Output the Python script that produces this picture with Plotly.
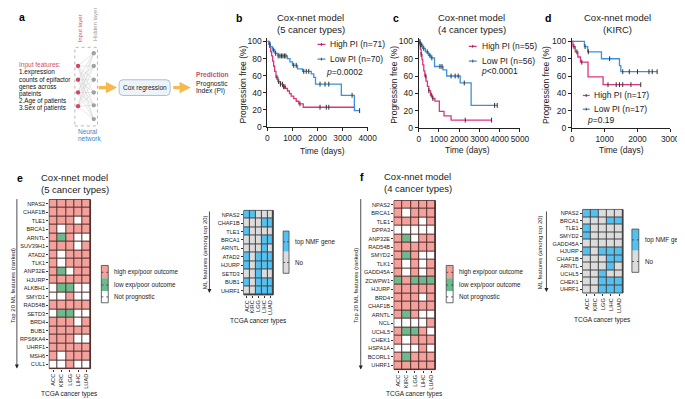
import plotly.graph_objects as go

W, H = 685, 399
FONT = "Liberation Sans, Arial, sans-serif"
PINK = "#e0337e"
BLUE = "#3d8fdb"
RED = "#f5a19b"
GREEN = "#6cba8d"
WHITE = "#ffffff"
NMF_BLUE = "#55c1f1"
NMF_GRAY = "#dcdcdc"
ORANGE = "#f5b94d"

# ---------------- data ----------------
# Kaplan-Meier curves (time in days, progression free %)
b_high_t = [0, 50, 90, 130, 170, 210, 250, 290, 340, 420, 520, 620, 720, 800, 880, 950, 1050, 1150, 1250, 1430, 3480]
b_high_s = [100, 97, 93, 88, 83, 77, 71, 65, 58, 53, 50, 47, 45, 42, 39, 36, 33, 30, 27, 23, 23]
b_high_cens = [380, 450, 520, 600, 650, 700, 1300, 2100, 2350, 2450, 3480]
b_low_t = [0, 60, 120, 200, 300, 420, 800, 900, 1000, 1200, 1400, 1750, 1850, 1920, 2950, 3470, 3680]
b_low_s = [100, 97, 94, 90, 86, 83, 80, 76, 72, 68, 65, 62, 58, 50, 37, 19, 19]
b_low_cens = [100, 250, 330, 430, 500, 560, 620, 680, 740, 1050, 1150, 1450, 1550, 1650, 2100, 2300, 2450, 3380, 3680]

c_high_t = [0, 40, 80, 120, 160, 200, 250, 300, 360, 430, 500, 580, 680, 800, 1020, 1250, 1600, 3600]
c_high_s = [100, 96, 91, 85, 79, 73, 66, 60, 54, 48, 43, 38, 34, 31, 19, 14, 9, 9]
c_high_cens = [120, 350, 500, 620, 700, 2300, 3600]
c_low_t = [0, 80, 200, 330, 480, 600, 780, 1200, 1380, 2050, 2590, 3880]
c_low_s = [100, 96, 92, 88, 84, 81, 71, 67, 60, 52, 26, 26]
c_low_cens = [60, 100, 150, 250, 420, 550, 650, 1050, 1150, 1600, 1800, 1950, 2250, 3750, 3880]

d_high_t = [0, 30, 100, 180, 260, 490, 950, 2100]
d_high_s = [100, 94, 88, 82, 76, 59, 50, 50]
d_high_cens = [60, 150, 300, 1100, 1350, 1450, 1550, 1800, 2100]
d_low_t = [0, 380, 480, 900, 1450, 1490, 2600]
d_low_s = [100, 94, 88, 80, 72, 65, 65]
d_low_cens = [400, 500, 1150, 1550, 1750, 2000, 2350, 2450, 2600]

cancer_types = ["ACC", "KIRC", "LGG", "LIHC", "LUAD"]

# 1 = high exp/poor outcome, -1 = low exp/poor outcome, 0 = not prognostic
e_genes = ["NPAS2", "CHAF1B", "TLE1", "BRCA1", "ARNTL", "SUV39H1", "ATAD2", "TLK1", "ANP32E", "HJURP",
           "ALKBH1", "SMYD1", "RAD54B", "SETD3", "BRD4", "BUB1", "RPS6KA4", "UHRF1", "MSH6", "CUL1"]
e_status = [
    [1, 1, 1, 1, 1], [1, 1, 1, 1, 1], [1, 1, 1, 0, 1], [1, 0, 1, 1, 1], [1, -1, 1, 0, 0],
    [1, 1, 1, 0, 1], [1, 0, 1, 1, 1], [1, 0, 1, 1, 1], [1, -1, 0, 1, 1], [1, 1, 1, 1, 1],
    [0, -1, -1, 0, 0], [0, 0, 1, 0, 0], [1, 1, 1, 1, 1], [0, -1, -1, 0, 0], [1, 1, 1, 0, 1],
    [1, 1, 1, 1, 1], [1, 1, 1, 0, 0], [1, 1, 1, 1, 1], [1, 0, 1, 1, 1], [0, 0, 1, 0, 0]]

e_nmf_genes = ["NPAS2", "CHAF1B", "TLE1", "BRCA1", "ARNTL", "ATAD2", "HJURP", "SETD3", "BUB1", "UHRF1"]
e_nmf = [
    [1, 1, 0, 0, 0], [0, 0, 0, 1, 1], [1, 0, 0, 0, 0], [0, 0, 0, 1, 1], [0, 0, 0, 1, 0],
    [1, 0, 1, 1, 1], [1, 0, 1, 1, 1], [0, 0, 1, 0, 0], [1, 0, 1, 1, 1], [0, 0, 1, 1, 1]]

f_genes = ["NPAS2", "BRCA1", "TLE1", "DPPA3", "ANP32E", "RAD54B", "SMYD2", "TLK1", "GADD45A", "ZCWPW1",
           "HJURP", "BRD4", "CHAF1B", "ARNTL", "NCL", "UCHL5", "CHEK1", "HSPA1A", "BCORL1", "UHRF1"]
f_status = [
    [1, 1, 1, 1, 1], [1, 0, 1, 1, 1], [1, 1, 1, 0, 1], [0, 0, 0, 0, 0], [1, -1, 0, 1, 1],
    [1, 1, 1, 1, 1], [1, -1, 1, 0, 0], [1, 0, 1, 0, 1], [1, 0, 1, 0, 1], [-1, 1, -1, -1, -1],
    [1, 1, 1, 1, 1], [1, 1, 1, 0, 1], [1, 1, 1, 1, 1], [1, -1, 1, 0, 0], [0, 0, 0, 0, 1],
    [1, -1, -1, 1, 0], [1, 0, 1, 1, 1], [0, 0, 0, 1, 0], [1, -1, 1, 1, 1], [1, 1, 1, 1, 1]]

f_nmf_genes = ["NPAS2", "BRCA1", "TLE1", "SMYD2", "GADD45A", "HJURP", "CHAF1B", "ARNTL", "UCHL5", "CHEK1", "UHRF1"]
f_nmf = [
    [1, 1, 0, 0, 0], [0, 0, 0, 1, 1], [1, 0, 0, 0, 0], [1, 0, 0, 0, 0], [0, 0, 0, 0, 0],
    [1, 0, 1, 1, 1], [0, 0, 0, 1, 1], [0, 0, 0, 1, 0], [0, 0, 1, 0, 0], [0, 0, 1, 1, 1], [0, 0, 1, 1, 1]]

input_features = ["1.expression", "counts of epifactor", "genes across", "pateints",
                  "2.Age of patients", "3.Sex of patients"]


def px(x):
    return x / W


def py(y):
    return 1 - y / H


fig = go.Figure()
layout = {}
annotations = []
shapes = []


def txt(x, y, s, size=8.5, color="#222", xanchor="center", yanchor="middle", angle=0, bold=False):
    if bold:
        s = "<b>" + s + "</b>"
    annotations.append(dict(x=px(x), y=py(y), xref="paper", yref="paper", text=s, showarrow=False,
                            xanchor=xanchor, yanchor=yanchor, textangle=angle,
                            font=dict(family=FONT, size=size, color=color)))


def arrow(x_tail, y_tail, x_head, y_head, width, color, size, head=2):
    annotations.append(dict(x=px(x_head), y=py(y_head), ax=x_tail - x_head, ay=y_tail - y_head,
                            xref="paper", yref="paper", axref="pixel", ayref="pixel",
                            showarrow=True, arrowhead=head, arrowsize=size, arrowwidth=width,
                            arrowcolor=color, text=""))


def surv_at(ts, ss, t):
    v = ss[0]
    for ti, si in zip(ts, ss):
        if ti <= t:
            v = si
    return v


def axname(n, kind):
    return kind + ("axis" if n == 1 else "axis%d" % n)


def ref(n, kind):
    return kind + ("" if n == 1 else str(n))


# ---------------- KM panels ----------------
km_panels = [
    (1, 262, 364, 32, 119, 4000, [(b_high_t, b_high_s, b_high_cens, PINK), (b_low_t, b_low_s, b_low_cens, BLUE)]),
    (2, 416, 519, 32, 120, 5000, [(c_high_t, c_high_s, c_high_cens, PINK), (c_low_t, c_low_s, c_low_cens, BLUE)]),
    (3, 572, 672, 32, 120, 3000, [(d_high_t, d_high_s, d_high_cens, PINK), (d_low_t, d_low_s, d_low_cens, BLUE)]),
]
for n, x0, x1, y100, y0, xmax, curves in km_panels:
    unit = (y0 - y100) / 100.0
    ytop = y0 - 104 * unit
    layout[axname(n, "x")] = dict(domain=[px(x0), px(x1)], range=[0, xmax], anchor=ref(n, "y"),
                                  showline=True, linecolor="#222", linewidth=1, ticks="outside",
                                  ticklen=3, tickwidth=1, tickcolor="#222", tickmode="linear", tick0=0,
                                  dtick=1000, tickangle=0,
                                  showgrid=False, zeroline=False,
                                  tickfont=dict(family=FONT, size=8.3, color="#222"))
    layout[axname(n, "y")] = dict(domain=[py(y0), py(ytop)], range=[0, 104], anchor=ref(n, "x"),
                                  showline=True, linecolor="#222", linewidth=1, ticks="outside",
                                  ticklen=3, tickwidth=1, tickcolor="#222", tickvals=[0, 20, 40, 60, 80, 100],
                                  showgrid=False, zeroline=False,
                                  tickfont=dict(family=FONT, size=8.5, color="#222"))
    for ts, ss, cens, col in curves:
        fig.add_trace(go.Scatter(x=ts, y=ss, mode="lines", line=dict(shape="hv", color=col, width=1.3),
                                 xaxis=ref(n, "x"), yaxis=ref(n, "y"), showlegend=False, hoverinfo="skip"))
        fig.add_trace(go.Scatter(x=cens, y=[surv_at(ts, ss, t) for t in cens], mode="markers",
                                 marker=dict(symbol="line-ns", size=3.5, line=dict(width=1, color="#333")),
                                 xaxis=ref(n, "x"), yaxis=ref(n, "y"), showlegend=False, hoverinfo="skip",
                                 cliponaxis=False))

# KM titles & labels
for letter, lx, cx, sub, ytx, xtx, ttx in [("b", 233, 306, "(5 cancer types)", 237, 318, 144),
                                           ("c", 393, 470, "(4 cancer types)", 390, 466, 143),
                                           ("d", 548, 618, "(KIRC)", 545, 622, 143)]:
    txt(lx, 8, letter, size=10.5, color="#000", bold=True)
    txt(cx, 8, "Cox-nnet model", size=9.5)
    txt(cx, 20, sub, size=9.5)
    txt(ytx, 76, "Progression free (%)", size=8.5, angle=-90)
    txt(xtx, ttx, "Time (days)", size=8.5)

# KM legends
for (sx0, sx1, yh, yl, tx, ptx, pty, nh, nl, ptext) in [
        (313, 321, 35, 50, 324, 320, 63, "71", "70", "<i>p</i>=0.0002"),
        (467, 475, 37, 52, 478, 477, 62, "55", "56", "<i>p</i>&lt;0.0001"),
        (583, 590, 87, 101, 592, 585, 112, "17", "17", "<i>p</i>=0.19")]:
    for yy, col, lab in [(yh, PINK, "High PI (n=%s)" % nh), (yl, BLUE, "Low PI (n=%s)" % nl)]:
        shapes.append(dict(type="line", xref="paper", yref="paper", x0=px(sx0), x1=px(sx1), y0=py(yy), y1=py(yy),
                           line=dict(color=col, width=1.3)))
        shapes.append(dict(type="line", xref="paper", yref="paper", x0=px((sx0 + sx1) / 2), x1=px((sx0 + sx1) / 2),
                           y0=py(yy - 1.5), y1=py(yy + 1.5), line=dict(color="#333", width=0.8)))
        txt(tx, yy, lab, size=8.5, xanchor="left")
    txt(ptx, pty, ptext, size=8.5, xanchor="left")

# ---------------- heatmaps ----------------
status_scale = [[0, GREEN], [0.33, GREEN], [0.34, WHITE], [0.66, WHITE], [0.67, RED], [1, RED]]
nmf_scale = [[0, NMF_GRAY], [0.5, NMF_GRAY], [0.5, NMF_BLUE], [1, NMF_BLUE]]

heat_panels = [
    (4, 40, 82, 193, 365, e_genes, e_status, status_scale, -1, 1, "#4a2c2c"),
    (5, 238, 268, 204, 290, e_nmf_genes, e_nmf, nmf_scale, 0, 1, "#444"),
    (6, 391, 433, 194, 366, f_genes, f_status, status_scale, -1, 1, "#4a2c2c"),
    (7, 583, 624, 203, 288, f_nmf_genes, f_nmf, nmf_scale, 0, 1, "#444"),
]
for n, x0, x1, y0, y1, genes, z, cs, zmin, zmax, gridcol in heat_panels:
    layout[axname(n, "x")] = dict(domain=[px(x0), px(x1)], anchor=ref(n, "y"), type="category",
                                  tickmode="array", tickvals=cancer_types, ticktext=cancer_types,
                                  tickangle=-90, ticks="outside", ticklen=2, tickcolor="#333",
                                  showgrid=False, zeroline=False, showline=False,
                                  tickfont=dict(family=FONT, size=5.6, color="#222"))
    layout[axname(n, "y")] = dict(domain=[py(y1), py(y0)], anchor=ref(n, "x"), type="category",
                                  tickmode="array", tickvals=genes, ticktext=genes,
                                  autorange="reversed", ticks="outside", ticklen=2, tickcolor="#333",
                                  showgrid=False, zeroline=False, showline=False,
                                  tickfont=dict(family=FONT, size=5.6, color="#222"))
    shapes.append(dict(type="rect", xref=ref(n, "x") + " domain", yref=ref(n, "y") + " domain",
                       x0=0, x1=1, y0=0, y1=1, fillcolor=gridcol, line=dict(color=gridcol, width=1),
                       layer="below"))
    fig.add_trace(go.Heatmap(x=cancer_types, y=genes, z=z, colorscale=cs, zmin=zmin, zmax=zmax,
                             showscale=False, xgap=1, ygap=1, xaxis=ref(n, "x"), yaxis=ref(n, "y"),
                             hoverinfo="skip"))

# heatmap titles
txt(10, 171, "e", size=10.5, color="#000", bold=True)
txt(66, 170, "Cox-nnet model", size=9.5)
txt(66, 183, "(5 cancer types)", size=9.5)
txt(358, 170, "f", size=10.5, color="#000", bold=True)
txt(415, 169, "Cox-nnet model", size=9.5)
txt(415, 182, "(4 cancer types)", size=9.5)

# x titles
txt(61, 391, "TCGA cancer types", size=6.5)
txt(253, 317, "TCGA cancer types", size=6.5)
txt(412, 391, "TCGA cancer types", size=6.5)
txt(603, 316, "TCGA cancer types", size=6.5)

# y titles with arrows
for tx_, lx_, ya, yb, ymid, label in [(3, 7, 194, 365, 280, "Top 20 ML features (ranked)"),
                                      (352, 357, 194, 366, 280, "Top 20 ML features (ranked)"),
                                      (198, 203, 205, 288, 247, "ML features (among top 20)"),
                                      (539, 546, 205, 287, 247, "ML features (among top 20)")]:
    txt(tx_, ymid, label, size=6, angle=-90)
    arrow(lx_, ya, lx_, yb, 0.8, "#222", 1)


# legends for heatmaps
def legend_box(bx0, bx1, segs, labels, tx):
    for (ya, yb, col), (ly, lab) in zip(segs, labels):
        shapes.append(dict(type="rect", xref="paper", yref="paper", x0=px(bx0), x1=px(bx1), y0=py(yb), y1=py(ya),
                           fillcolor=col, line=dict(width=0)))
        shapes.append(dict(type="line", xref="paper", yref="paper", x0=px(bx0), x1=px(bx0 + 2), y0=py(ly), y1=py(ly),
                           line=dict(color="#333", width=0.8)))
        shapes.append(dict(type="line", xref="paper", yref="paper", x0=px(bx1 - 2), x1=px(bx1), y0=py(ly), y1=py(ly),
                           line=dict(color="#333", width=0.8)))
        txt(tx, ly, lab, size=6.3, xanchor="left")
    shapes.append(dict(type="rect", xref="paper", yref="paper", x0=px(bx0), x1=px(bx1), y0=py(segs[-1][1]),
                       y1=py(segs[0][0]), line=dict(color="#444", width=0.8)))


legend_box(93, 100, [(260, 273, RED), (273, 286, GREEN), (286, 298, WHITE)],
           [(267, "high exp/poor outcome"), (280, "low exp/poor outcome"), (292, "Not prognostic")], 104)
legend_box(444, 451, [(260, 273, RED), (273, 286, GREEN), (286, 298, WHITE)],
           [(267, "high exp/poor outcome"), (280, "low exp/poor outcome"), (292, "Not prognostic")], 455)
legend_box(278, 284, [(225, 246, NMF_BLUE), (246, 268, NMF_GRAY)],
           [(236, "top NMF gene"), (257, "No")], 288)
legend_box(633, 640, [(223, 245, NMF_BLUE), (245, 267, NMF_GRAY)],
           [(234, "top NMF gene"), (256, "No")], 644)

# ---------------- panel a (schematic) ----------------
txt(12, 7, "a", size=10.5, color="#000", bold=True)
txt(71, 19, "Input layer", size=6, color="#c8505f", angle=-90)
txt(86, 14, "Hidden layer", size=6, color="#999", angle=-90)
shapes.append(dict(type="rect", xref="paper", yref="paper", x0=px(66), x1=px(89), y0=py(118), y1=py(38),
                   line=dict(color="#999", width=0.7, dash="dot")))
in_y = [57, 71, 84, 98]
hid_y = [44, 57, 71, 84, 97, 111]
for a in in_y:
    for b in hid_y:
        shapes.append(dict(type="line", xref="paper", yref="paper", x0=px(69), x1=px(85), y0=py(a), y1=py(b),
                           line=dict(color="#cfcfcf", width=0.5)))
for a in in_y:
    shapes.append(dict(type="circle", xref="paper", yref="paper", x0=px(67), x1=px(71.5), y0=py(a + 2.2),
                       y1=py(a - 2.2), fillcolor="#c94a6a", line=dict(width=0)))
for b in hid_y:
    shapes.append(dict(type="circle", xref="paper", yref="paper", x0=px(83), x1=px(87.5), y0=py(b + 2.2),
                       y1=py(b - 2.2), fillcolor="#a0a0a0", line=dict(width=0)))
txt(67, 124, "Neural", size=6.5, color="#3a87c9", xanchor="left")
txt(67, 131, "network", size=6.5, color="#3a87c9", xanchor="left")

txt(7, 56, "Input features:", size=6.5, color="#d0506a", xanchor="left")
for i, line in enumerate(input_features):
    txt(7, 63.5 + 7.3 * i, line, size=6.3, color="#111", xanchor="left")

for xa, xb in [(89, 109), (165, 184)]:
    arrow(xa, 79, xb, 79, 3.2, ORANGE, 0.7)

# rounded box
bx0, bx1, by0, by1, r = 111, 163, 71, 87, 4
path = ("M {a},{b} L {c},{b} Q {d},{b} {d},{e} L {d},{f} Q {d},{g} {c},{g} L {a},{g} Q {h},{g} {h},{f} "
        "L {h},{e} Q {h},{b} {a},{b} Z").format(
    a=px(bx0 + r), b=py(by0), c=px(bx1 - r), d=px(bx1), e=py(by0 + r), f=py(by1 - r), g=py(by1), h=px(bx0))
shapes.append(dict(type="path", xref="paper", yref="paper", path=path, fillcolor="#eef3f9",
                   line=dict(color="#9fb0c2", width=0.8)))
txt(137, 79, "Cox regression", size=6.5, color="#222")
txt(187, 66, "Prediction", size=6.7, color="#c8505f", xanchor="left", bold=True)
txt(187, 75, "Prognostic", size=6.7, color="#222", xanchor="left")
txt(187, 82, "Index (PI)", size=6.7, color="#222", xanchor="left")

fig.update_layout(width=W, height=H, margin=dict(l=0, r=0, t=0, b=0), autosize=False,
                  paper_bgcolor="white", plot_bgcolor="rgba(0,0,0,0)", showlegend=False,
                  font=dict(family=FONT, size=8, color="#222"),
                  annotations=annotations, shapes=shapes, **layout)
fig.write_html("out.html")
